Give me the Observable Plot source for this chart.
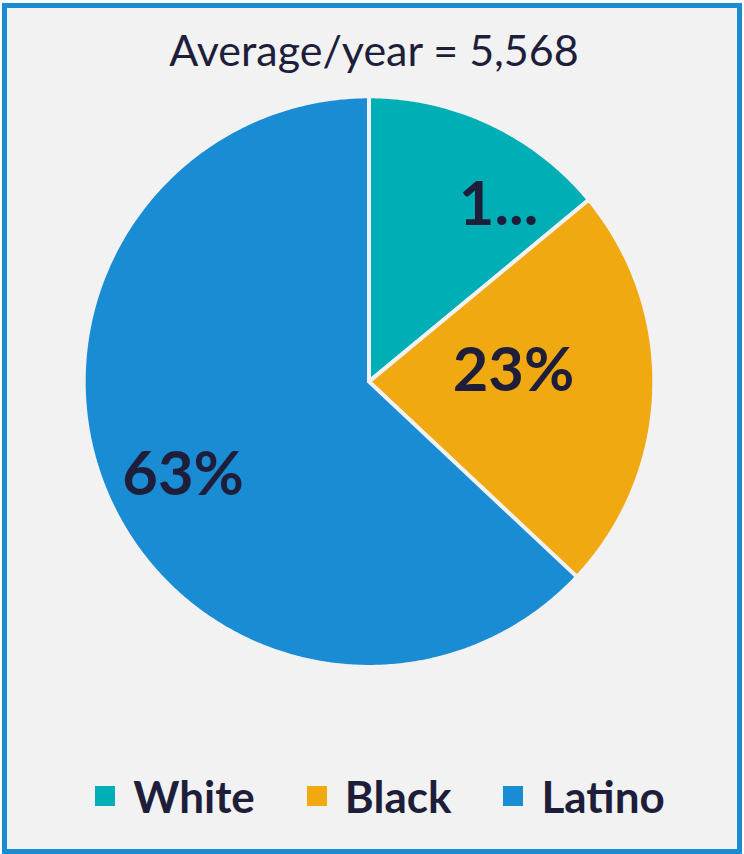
<!DOCTYPE html>
<html>
<head>
<meta charset="utf-8">
<script src="https://cdn.jsdelivr.net/npm/d3@7"></script>
<script src="https://cdn.jsdelivr.net/npm/@observablehq/plot@0.6"></script>
<style>
  html, body { margin: 0; padding: 0; background: #ffffff; }
  #frame {
    position: absolute; left: 2px; top: 3px; width: 740px; height: 851px;
    box-sizing: border-box; border: 5px solid #1a8cd4; background: #f2f2f2;
    font-family: Lato, "Open Sans", sans-serif; color: #1e1e3a;
    overflow: hidden;
  }
  #title { position: absolute; left: 2px; width: 100%; top: 14px; text-align: center;
    font-size: 43px; font-weight: 400; line-height: 56px; }
  #chart { position: absolute; left: -7px; top: 71px; }
  #legend { position: absolute; left: 8px; width: 100%; top: 758px; display: flex;
    justify-content: center; align-items: center; font-size: 44px; font-weight: 700; line-height: 60px; }
  .item { display: flex; align-items: center; margin: 0 26px; }
  .sw { width: 20px; height: 20px; margin-right: 18px; }
</style>
</head>
<body>
<div id="frame">
  <div id="title"></div>
  <div id="chart"></div>
  <div id="legend"></div>
</div>
<script>
const categories = ["White", "Black", "Latino"];
const shares = [14, 23, 63];
const labels = ["1...", "23%", "63%"];
const colors = ["#00aeb5", "#f0a911", "#1a8cd4"];
const title = "Average/year = 5,568";

document.getElementById("title").textContent = title;

const W = 744, H = 610, R = 288, cy = 305;
const pie = d3.pie().sort(null).value(d => d.share);
const data = categories.map((c, i) => ({category: c, share: shares[i], label: labels[i]}));
const arcs = pie(data);

// polygon vertices for each slice, derived from the pie angles
const poly = [];
arcs.forEach(a => {
  const n = Math.max(2, Math.ceil((a.endAngle - a.startAngle) / (Math.PI / 360)));
  poly.push({category: a.data.category, x: 0, y: 0});
  for (let k = 0; k <= n; k++) {
    const t = a.startAngle + (a.endAngle - a.startAngle) * k / n;
    poly.push({category: a.data.category, x: Math.sin(t), y: Math.cos(t)});
  }
  poly.push({category: a.data.category, x: 0, y: 0});
});

// label anchor: slice mid-angle, with per-slice radial fraction & angular nudge (styling)
const labelStyle = {White: {r: 0.767, da: 11.1}, Black: {r: 0.508, da: -6}, Latino: {r: 0.73, da: -3.4}};
const lab = arcs.map(a => {
  const s = labelStyle[a.data.category];
  const t = (a.startAngle + a.endAngle) / 2 + s.da * Math.PI / 180;
  return {label: a.data.label, x: s.r * Math.sin(t), y: s.r * Math.cos(t)};
});

const chart = Plot.plot({
  width: W, height: H,
  margin: 0,
  x: {domain: [-(W / 2) / R, (W / 2) / R], axis: null},
  y: {domain: [-(H - cy) / R, cy / R], axis: null},
  color: {domain: categories, range: colors},
  style: {background: "transparent", overflow: "visible"},
  marks: [
    Plot.line(poly, {x: "x", y: "y", z: "category", fill: "category", stroke: "#f2f2f2", strokeWidth: 4, strokeLinejoin: "round", curve: "linear"}),
    Plot.text(lab, {x: "x", y: "y", text: "label", fill: "#1e1e3a", fontSize: 62, fontWeight: 700,
      fontFamily: "Lato, 'Open Sans', sans-serif"})
  ]
});
document.getElementById("chart").appendChild(chart);

const legend = document.getElementById("legend");
categories.forEach((c, i) => {
  const it = document.createElement("div");
  it.className = "item";
  const sw = document.createElement("div");
  sw.className = "sw";
  sw.style.background = colors[i];
  const tx = document.createElement("span");
  tx.textContent = c;
  it.appendChild(sw); it.appendChild(tx);
  legend.appendChild(it);
});
</script>
</body>
</html>
